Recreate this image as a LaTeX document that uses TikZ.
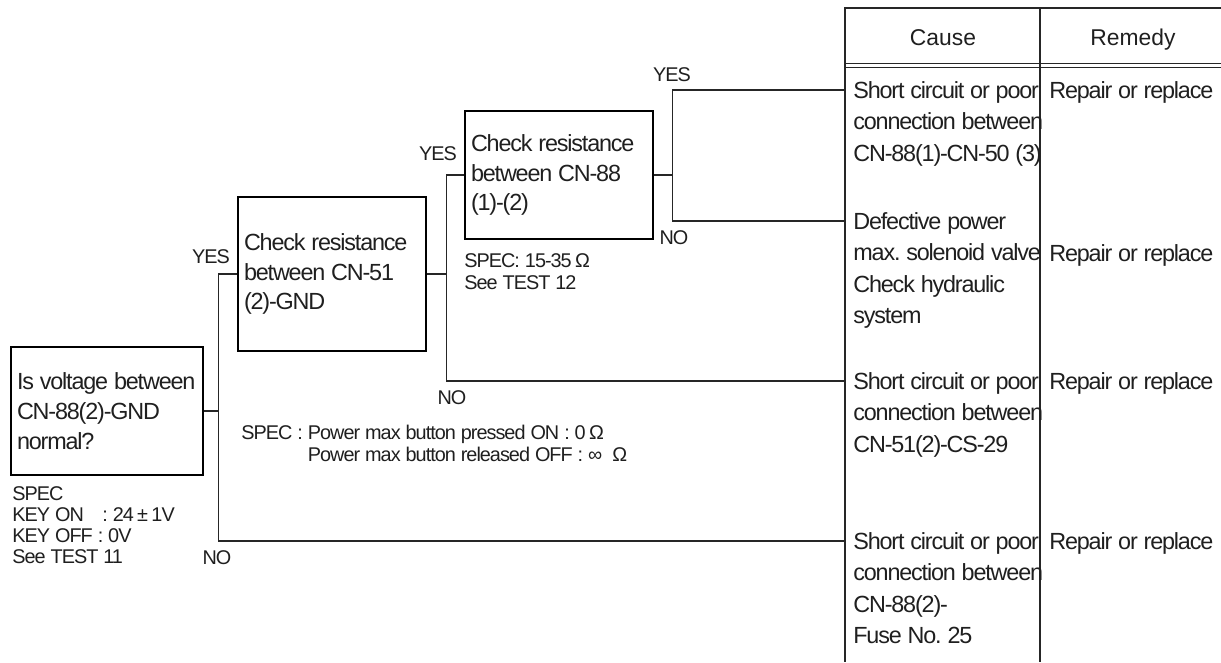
\documentclass[tikz,border=0pt]{standalone}
\usepackage{fontspec}
\setmainfont{Liberation Sans}[LetterSpace=-5]
\newfontfamily\headfont{Liberation Sans}
\frenchspacing
\begin{document}
\begin{tikzpicture}[
  every node/.style={text=black!88},
  tight/.style={execute at begin node={\spaceskip=.25em\relax}},
  box/.style={draw, tight, line width=0.8pt, inner xsep=0.12cm, align=left, font=\fontsize{13.3}{17}\selectfont},
  cell/.style={tight, anchor=base west, inner sep=0pt, align=left, text width=4cm, font=\fontsize{13.3}{17.9}\selectfont},
  head/.style={anchor=base, inner sep=0pt, font={\headfont\fontsize{13}{16}\selectfont}},
  tag/.style={inner sep=0pt, font=\fontsize{11.3}{13}\selectfont},
  note/.style={tight, anchor=base west, inner sep=0pt, align=left, text width=9cm, font=\fontsize{11.3}{13}\selectfont},
  wire/.style={line width=0.6pt, black!85}]
\useasboundingbox (0,0) rectangle (24.42,13.24);

% table
\draw[line width=1.1pt, black!85] (24.42,13.08) -- (16.90,13.08) -- (16.90,0);
\draw[line width=0.7pt, black!85] (20.80,13.08) -- (20.80,0);
\draw[line width=0.8pt, black!85] (16.90,11.97) -- (24.42,11.97);
\draw[line width=0.5pt, black!85] (16.90,11.90) -- (24.42,11.90);
\node[head] (hcause) at (18.86,12.32) {Cause};
\node[head] (hfix) at (22.66,12.32) {Remedy};

\node[cell] (cause1) at (17.06,11.27) {Short circuit or poor\\connection between\\CN-88(1)-CN-50 (3)};
\node[cell] (cause2) at (17.06,8.65) {Defective power\\max. solenoid valve\\Check hydraulic\\system};
\node[cell] (cause3) at (17.06,5.45) {Short circuit or poor\\connection between\\CN-51(2)-CS-29};
\node[cell] (cause4) at (17.06,2.25) {Short circuit or poor\\connection between\\CN-88(2)-\\Fuse No. 25};
\node[cell] (fix1) at (20.98,11.27) {Repair or replace};
\node[cell] (fix2) at (20.98,8.01) {Repair or replace};
\node[cell] (fix3) at (20.98,5.45) {Repair or replace};
\node[cell] (fix4) at (20.98,2.25) {Repair or replace};
\foreach \i in {1,...,4}
  \coordinate (in\i) at ([xshift=-0.16cm, yshift=0.17cm]cause\i.base west);

% checks
\node[box, text width=3.6cm, minimum height=2.56cm] (q) at (2.14,5.02) {Is voltage between\\CN-88(2)-GND\\normal?};
\node[box, text width=3.52cm, minimum height=3.08cm] (r51) at (6.64,7.76) {Check resistance\\between CN-51\\(2)-GND};
\node[box, text width=3.52cm, minimum height=2.56cm] (r88) at (11.18,9.74) {Check resistance\\between CN-88\\(1)-(2)};

\draw[wire] (q.east) -- ++(0.30,0) coordinate (s1) |- (r51.west);
\draw[wire] (s1) |- (in4);
\draw[wire] (r51.east) -- ++(0.40,0) coordinate (s2) |- (r88.west);
\draw[wire] (s2) |- (in3);
\draw[wire] (r88.east) -- ++(0.38,0) coordinate (s3) |- (in1);
\draw[wire] (s3) |- (in2);

\node[tag] (yes1) at (4.22,8.10) {YES};
\node[tag] (no1) at (4.34,2.08) {NO};
\node[tag] (yes2) at (8.76,10.16) {YES};
\node[tag] (no2) at (9.04,5.28) {NO};
\node[tag] (yes3) at (13.44,11.74) {YES};
\node[tag] (no3) at (13.48,8.48) {NO};

% specs
\node[note, font=\fontsize{11.3}{12.1}\selectfont] (spec1) at (0.24,3.24) {SPEC\\KEY ON\hspace{0.37cm}: 24\,±\,1V\\KEY OFF : 0V\\See TEST 11};
\node[note] (spec2) at (4.82,4.46) {SPEC : Power max button pressed ON : 0\,Ω\\\phantom{SPEC : }Power max button released OFF : ∞\ \ Ω};
\node[note] (spec3) at (9.28,7.90) {SPEC: 15-35\,Ω\\See TEST 12};
\end{tikzpicture}
\end{document}
